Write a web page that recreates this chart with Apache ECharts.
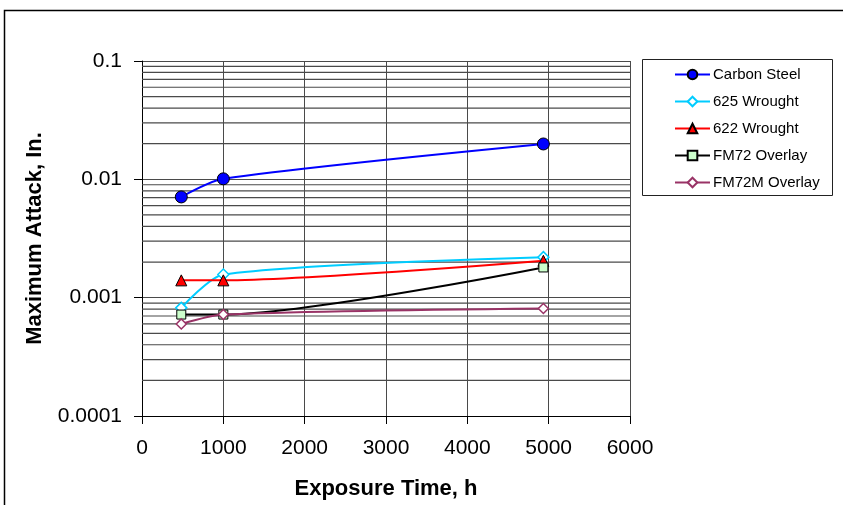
<!DOCTYPE html>
<html>
<head>
<meta charset="utf-8">
<script src="https://cdn.jsdelivr.net/npm/echarts@6/dist/echarts.min.js"></script>
<style>
html,body{margin:0;padding:0;background:#fff;}
#chart{width:843px;height:505px;}
</style>
</head>
<body>
<div id="chart"></div>
<script>
// ---- data ----
var exposureHours = [483, 1000, 4935];
var seriesNames = ['Carbon Steel', '625 Wrought', '622 Wrought', 'FM72 Overlay', 'FM72M Overlay'];
var carbonSteel = [0.0071, 0.0101, 0.0199];
var wrought625 = [0.00082, 0.00157, 0.0022];
var wrought622 = [0.0014, 0.0014, 0.00205];
var fm72Overlay = [0.00072, 0.00072, 0.0018];
var fm72mOverlay = [0.0006, 0.00072, 0.00081];
var yTickLabels = {'0.0001': '0.0001', '0.001': '0.001', '0.01': '0.01', '0.1': '0.1'};
var xTickLabels = ['0', '1000', '2000', '3000', '4000', '5000', '6000'];
var xRange = [0, 6000];

// minor log gridlines (2..9 of each decade)
var minorGrid = [];
[0.0001, 0.001, 0.01].forEach(function (d) {
  for (var m = 2; m <= 9; m++) minorGrid.push(+(d * m).toPrecision(3));
});

function pairs(vals) {
  return vals.map(function (v, i) { return [exposureHours[i], v]; });
}

var FONT = 'Liberation Sans, Arial, sans-serif';
var GRID = '#4a4a4a';
var SMOOTH = 0.25;

var gridSeries = minorGrid.map(function (v) {
  return {
    name: 'minor' + v, type: 'line', silent: true, symbol: 'none', z: 1,
    data: [[xRange[0], v], [xRange[1], v]],
    lineStyle: { color: GRID, width: 1.2 },
    emphasis: { disabled: true }, tooltip: { show: false }
  };
});

var chart = echarts.init(document.getElementById('chart'), null, { renderer: 'canvas' });
var option = {
  animation: false,
  backgroundColor: '#ffffff',
  grid: { left: 142, right: 213, top: 61, bottom: 88, containLabel: false },
  graphic: [
    { type: 'rect', shape: { x: 4.5, y: 10.5, width: 1000, height: 700 }, style: { fill: 'none', stroke: '#000', lineWidth: 1.5 }, silent: true, z: -10 },
    { type: 'rect', shape: { x: 642.5, y: 59.5, width: 190, height: 136 }, style: { fill: '#fff', stroke: '#222', lineWidth: 1 }, silent: true, z: 0 }
  ],
  legend: {
    orient: 'vertical',
    left: 674,
    top: 67,
    padding: 0,
    itemWidth: 35,
    itemHeight: 12,
    itemGap: 12,
    data: seriesNames,
    textStyle: { fontFamily: FONT, fontSize: 15, color: '#000', padding: [0, 0, 0, -2] },
    z: 5
  },
  xAxis: {
    type: 'value',
    min: xRange[0], max: xRange[1], interval: 1000,
    name: 'Exposure Time, h',
    nameLocation: 'middle',
    nameGap: 62,
    nameTextStyle: { fontFamily: FONT, fontSize: 22, fontWeight: 'bold', color: '#000' },
    axisLine: { show: true, onZero: false, lineStyle: { color: '#000', width: 1 } },
    axisTick: { show: true, inside: false, length: 8, lineStyle: { color: '#000' } },
    axisLabel: {
      fontFamily: FONT, fontSize: 21, color: '#000', margin: 22,
      formatter: function (v) { return xTickLabels[Math.round(v / 1000)]; }
    },
    splitLine: { show: true, lineStyle: { color: GRID, width: 1 } }
  },
  yAxis: {
    type: 'log',
    logBase: 10,
    min: 0.0001, max: 0.1,
    name: 'Maximum Attack, In.',
    nameLocation: 'middle',
    nameGap: 96,
    nameRotate: 90,
    nameTextStyle: { fontFamily: FONT, fontSize: 22, fontWeight: 'bold', color: '#000' },
    axisLine: { show: true, lineStyle: { color: '#000', width: 1 } },
    axisTick: { show: true, inside: false, length: 8, lineStyle: { color: '#000' } },
    axisLabel: {
      fontFamily: FONT, fontSize: 21, color: '#000', margin: 20,
      formatter: function (v) {
        var k = String(+v.toPrecision(1));
        return yTickLabels[k] !== undefined ? yTickLabels[k] : k;
      }
    },
    splitLine: { show: true, lineStyle: { color: GRID, width: 1 } }
  },
  series: gridSeries.concat([
    {
      name: seriesNames[0], type: 'line', data: pairs(carbonSteel), smooth: SMOOTH,
      symbol: 'circle', symbolSize: 12,
      lineStyle: { color: '#0000FF', width: 2 },
      itemStyle: { color: '#0000FF', borderColor: '#000', borderWidth: 1 }, z: 3
    },
    {
      name: seriesNames[1], type: 'line', data: pairs(wrought625), smooth: SMOOTH,
      symbol: 'diamond', symbolSize: 11,
      lineStyle: { color: '#00CCFF', width: 2 },
      itemStyle: { color: '#ffffff', borderColor: '#00CCFF', borderWidth: 1.5 }, z: 3
    },
    {
      name: seriesNames[2], type: 'line', data: pairs(wrought622), smooth: SMOOTH,
      symbol: 'triangle', symbolSize: 11,
      lineStyle: { color: '#FF0000', width: 2 },
      itemStyle: { color: '#FF0000', borderColor: '#000', borderWidth: 1 }, z: 3
    },
    {
      name: seriesNames[3], type: 'line', data: pairs(fm72Overlay), smooth: SMOOTH,
      symbol: 'rect', symbolSize: 9,
      lineStyle: { color: '#000000', width: 2 },
      itemStyle: { color: '#CCFFCC', borderColor: '#000', borderWidth: 1 }, z: 3
    },
    {
      name: seriesNames[4], type: 'line', data: pairs(fm72mOverlay), smooth: SMOOTH,
      symbol: 'diamond', symbolSize: 10,
      lineStyle: { color: '#993366', width: 2 },
      itemStyle: { color: '#ffffff', borderColor: '#993366', borderWidth: 1.5 }, z: 3
    }
  ])
};
chart.setOption(option);
</script>
</body>
</html>
